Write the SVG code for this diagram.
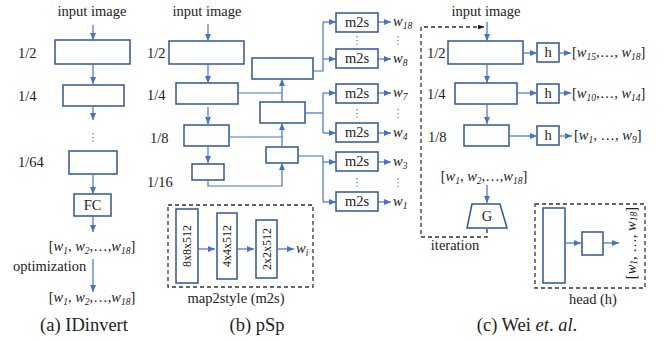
<svg xmlns="http://www.w3.org/2000/svg" width="667" height="341" viewBox="0 0 667 341">
<defs>
<marker id="ah" markerUnits="userSpaceOnUse" markerWidth="7" markerHeight="6" refX="7" refY="3" orient="auto"><path d="M0,0 L7,3 L0,6 z" fill="#4472C4"/></marker>
<marker id="ahk" markerUnits="userSpaceOnUse" markerWidth="6" markerHeight="5" refX="6" refY="2.5" orient="auto"><path d="M0,0 L6,2.5 L0,5 z" fill="#222"/></marker>
<style>
.t{font-family:"Liberation Serif","Times New Roman",serif;font-size:14.5px;fill:#222}
.c{text-anchor:middle}
.cap{font-size:18.5px}
.i{font-style:italic}
.s{font-size:9.5px;font-style:italic}
.r{font-size:12px}
.box{fill:#fff;stroke:#2F5597;stroke-width:1.5}
.ln{fill:none;stroke:#4472C4;stroke-width:1.2}
.ar{fill:none;stroke:#4472C4;stroke-width:1.2;marker-end:url(#ah)}
.dash{fill:none;stroke:#333;stroke-width:1.3;stroke-dasharray:4 3}
.dot{font-family:"DejaVu Sans",sans-serif;font-size:11px;fill:#777;text-anchor:middle}
</style>
</defs>

<!-- (a) IDinvert -->
<g id="a-labels">
<text class="t c" x="92" y="16">input image</text>
<text class="t" x="18" y="58">1/2</text>
<text class="t" x="18" y="101">1/4</text>
<text class="t" x="18" y="167">1/64</text>
<text class="dot" x="93" y="141">⋮</text>
</g>
<g id="a-enc1"><rect class="box" x="55" y="40" width="75" height="24"/></g>
<g id="a-enc2"><rect class="box" x="63" y="85" width="61" height="21"/></g>
<g id="a-enc3"><rect class="box" x="69" y="151" width="48" height="23"/></g>
<g id="a-fc"><rect class="box" x="74" y="194" width="37" height="22"/><text class="t c" x="92.5" y="210">FC</text></g>
<g id="a-w1"><text class="t c" x="92" y="251">[<tspan class="i">w</tspan><tspan class="s" dy="3">1</tspan><tspan dy="-3">, </tspan><tspan class="i">w</tspan><tspan class="s" dy="3">2</tspan><tspan dy="-3">,…,</tspan><tspan class="i">w</tspan><tspan class="s" dy="3">18</tspan><tspan dy="-3">]</tspan></text></g>
<g id="a-opt"><text class="t" x="13" y="271">optimization</text></g>
<g id="a-w2"><text class="t c" x="92" y="302">[<tspan class="i">w</tspan><tspan class="s" dy="3">1</tspan><tspan dy="-3">, </tspan><tspan class="i">w</tspan><tspan class="s" dy="3">2</tspan><tspan dy="-3">,…,</tspan><tspan class="i">w</tspan><tspan class="s" dy="3">18</tspan><tspan dy="-3">]</tspan></text></g>
<g id="a-cap"><text class="t c cap" x="84" y="331">(a) IDinvert</text></g>

<!-- (b) pSp -->
<g id="b-labels">
<text class="t c" x="207" y="16">input image</text>
<text class="t" x="147" y="58">1/2</text>
<text class="t" x="147" y="100">1/4</text>
<text class="t" x="150" y="143">1/8</text>
<text class="t" x="147" y="187">1/16</text>
</g>
<g id="b-enc1"><rect class="box" x="169" y="41" width="75" height="23"/></g>
<g id="b-enc2"><rect class="box" x="176" y="83" width="62" height="21"/></g>
<g id="b-enc3"><rect class="box" x="184" y="125" width="45" height="21"/></g>
<g id="b-enc4"><rect class="box" x="192" y="164" width="32" height="16"/></g>
<g id="b-dec1"><rect class="box" x="252" y="58" width="61" height="21"/></g>
<g id="b-dec2"><rect class="box" x="260" y="102" width="45" height="21"/></g>
<g id="b-dec3"><rect class="box" x="266" y="147" width="32" height="16"/></g>
<g id="b-m2s1"><rect class="box" x="336" y="13" width="42" height="19"/><text class="t c" x="357" y="27">m2s</text></g>
<g id="b-m2s2"><rect class="box" x="336" y="49" width="42" height="19"/><text class="t c" x="357" y="63">m2s</text></g>
<g id="b-m2s3"><rect class="box" x="336" y="84" width="42" height="19"/><text class="t c" x="357" y="98">m2s</text></g>
<g id="b-m2s4"><rect class="box" x="336" y="123" width="42" height="19"/><text class="t c" x="357" y="137">m2s</text></g>
<g id="b-m2s5"><rect class="box" x="336" y="152" width="42" height="19"/><text class="t c" x="357" y="166">m2s</text></g>
<g id="b-m2s6"><rect class="box" x="336" y="192" width="42" height="19"/><text class="t c" x="357" y="206">m2s</text></g>
<g id="b-dots">
<text class="dot" x="357" y="44">⋮</text>
<text class="dot" x="357" y="117">⋮</text>
<text class="dot" x="357" y="186">⋮</text>
<text class="dot" x="398" y="44">⋮</text>
<text class="dot" x="398" y="117">⋮</text>
<text class="dot" x="398" y="186">⋮</text>
</g>
<g id="b-wlabels">
<text class="t" x="393" y="26"><tspan class="i">w</tspan><tspan class="s" dy="3">18</tspan></text>
<text class="t" x="393" y="63"><tspan class="i">w</tspan><tspan class="s" dy="3">8</tspan></text>
<text class="t" x="393" y="97"><tspan class="i">w</tspan><tspan class="s" dy="3">7</tspan></text>
<text class="t" x="393" y="137"><tspan class="i">w</tspan><tspan class="s" dy="3">4</tspan></text>
<text class="t" x="393" y="166"><tspan class="i">w</tspan><tspan class="s" dy="3">3</tspan></text>
<text class="t" x="393" y="206"><tspan class="i">w</tspan><tspan class="s" dy="3">1</tspan></text>
</g>
<g id="b-map2style">
<rect class="dash" x="168" y="205" width="145" height="82"/>
<rect class="box" x="176" y="209" width="22" height="74"/>
<rect class="box" x="217" y="213" width="20" height="66"/>
<rect class="box" x="256" y="220" width="21" height="58"/>
<text class="t c r" transform="translate(187,246) rotate(-90)" dominant-baseline="central">8x8x512</text>
<text class="t c r" transform="translate(227,246) rotate(-90)" dominant-baseline="central">4x4x512</text>
<text class="t c r" transform="translate(266.5,249) rotate(-90)" dominant-baseline="central">2x2x512</text>
<text class="t" x="296" y="253"><tspan class="i">w</tspan><tspan class="s" dy="3">i</tspan></text>
<text class="t c" x="236" y="303">map2style (m2s)</text>
</g>
<g id="b-cap"><text class="t c cap" x="257" y="331">(b) pSp</text></g>

<!-- (c) Wei et al. -->
<g id="c-labels">
<text class="t c" x="486" y="16">input image</text>
<text class="t" x="427" y="58">1/2</text>
<text class="t" x="427" y="99">1/4</text>
<text class="t" x="428" y="142">1/8</text>
</g>
<g id="c-enc1"><rect class="box" x="448" y="41" width="75" height="23"/></g>
<g id="c-enc2"><rect class="box" x="455" y="83" width="62" height="21"/></g>
<g id="c-enc3"><rect class="box" x="464" y="125" width="45" height="21"/></g>
<g id="c-h1"><rect class="box" x="537" y="43" width="22" height="19"/><text class="t c" x="548" y="57">h</text></g>
<g id="c-h2"><rect class="box" x="537" y="84" width="22" height="19"/><text class="t c" x="548" y="98">h</text></g>
<g id="c-h3"><rect class="box" x="537" y="126" width="22" height="19"/><text class="t c" x="548" y="140">h</text></g>
<g id="c-out1"><text class="t" x="572" y="57">[<tspan class="i">w</tspan><tspan class="s" dy="3">15</tspan><tspan dy="-3">,…, </tspan><tspan class="i">w</tspan><tspan class="s" dy="3">18</tspan><tspan dy="-3">]</tspan></text></g>
<g id="c-out2"><text class="t" x="572" y="98">[<tspan class="i">w</tspan><tspan class="s" dy="3">10</tspan><tspan dy="-3">,…, </tspan><tspan class="i">w</tspan><tspan class="s" dy="3">14</tspan><tspan dy="-3">]</tspan></text></g>
<g id="c-out3"><text class="t" x="574" y="140">[<tspan class="i">w</tspan><tspan class="s" dy="3">1</tspan><tspan dy="-3">, …, </tspan><tspan class="i">w</tspan><tspan class="s" dy="3">9</tspan><tspan dy="-3">]</tspan></text></g>
<g id="c-w"><text class="t c" x="484" y="181">[<tspan class="i">w</tspan><tspan class="s" dy="3">1</tspan><tspan dy="-3">, </tspan><tspan class="i">w</tspan><tspan class="s" dy="3">2</tspan><tspan dy="-3">,…,</tspan><tspan class="i">w</tspan><tspan class="s" dy="3">18</tspan><tspan dy="-3">]</tspan></text></g>
<g id="c-G"><polygon class="box" points="472,204 500,204 507,228 467,228"/><text class="t c" x="487" y="221">G</text></g>
<g id="c-iter"><text class="t c" x="455" y="250">iteration</text></g>
<g id="c-head">
<rect class="dash" x="535" y="204" width="110" height="84"/>
<rect class="box" x="543" y="208" width="22" height="75"/>
<rect class="box" x="582" y="232" width="21" height="23"/>
<text class="t c" transform="translate(631,243) rotate(-90)" dominant-baseline="central">[<tspan class="i">w</tspan><tspan class="s" dy="3">1</tspan><tspan dy="-3">, …, </tspan><tspan class="i">w</tspan><tspan class="s" dy="3">18</tspan><tspan dy="-3">]</tspan></text>
<text class="t c" x="593" y="304">head (h)</text>
</g>
<g id="c-cap"><text class="t c cap" x="527" y="331">(c) Wei <tspan class="i">et</tspan>. <tspan class="i">al</tspan>.</text></g>

<g id="connectors">
<!-- (a) -->
<line class="ar" x1="93" y1="25" x2="93" y2="40"/>
<line class="ar" x1="93" y1="64" x2="93" y2="84"/>
<line class="ar" x1="93" y1="106" x2="93" y2="120"/>
<line class="ar" x1="93" y1="174" x2="93" y2="194"/>
<line class="ar" x1="93" y1="216" x2="93" y2="232"/>
<line class="ar" x1="93" y1="259" x2="93" y2="292"/>
<!-- (b) encoder -->
<line class="ar" x1="208" y1="24" x2="208" y2="41"/>
<line class="ar" x1="208" y1="64" x2="208" y2="83"/>
<line class="ar" x1="208" y1="107" x2="208" y2="124"/>
<line class="ar" x1="208" y1="146" x2="208" y2="163"/>
<!-- (b) lateral / decoder -->
<polyline class="ln" points="238,93 282,93"/>
<polyline class="ln" points="229,137 282,137"/>
<line class="ar" x1="282" y1="102" x2="282" y2="79"/>
<line class="ar" x1="282" y1="147" x2="282" y2="123"/>
<polyline class="ar" points="208,180 208,186 282,186 282,163"/>
<!-- (b) to m2s -->
<polyline class="ln" points="313,71 323,71 323,22"/>
<polyline class="ar" points="323,22 336,22"/>
<polyline class="ar" points="323,59 336,59"/>
<polyline class="ln" points="305,113 323,113"/>
<polyline class="ar" points="323,93 336,93"/>
<line class="ln" x1="323" y1="93" x2="323" y2="133"/>
<polyline class="ar" points="323,133 336,133"/>
<polyline class="ln" points="298,156 323,156 323,202"/>
<polyline class="ar" points="323,162 336,162"/>
<polyline class="ar" points="323,202 336,202"/>
<!-- (b) m2s outputs -->
<line class="ar" x1="378" y1="22" x2="391" y2="22"/>
<line class="ar" x1="378" y1="59" x2="391" y2="59"/>
<line class="ar" x1="378" y1="93" x2="391" y2="93"/>
<line class="ar" x1="378" y1="133" x2="391" y2="133"/>
<line class="ar" x1="378" y1="162" x2="391" y2="162"/>
<line class="ar" x1="378" y1="202" x2="391" y2="202"/>
<!-- (b) map2style -->
<line class="ar" x1="198" y1="249" x2="215" y2="249"/>
<line class="ar" x1="237" y1="249" x2="254" y2="249"/>
<line class="ar" x1="277" y1="249" x2="294" y2="249"/>
<!-- (c) -->
<line class="ar" x1="487" y1="22" x2="487" y2="41"/>
<line class="ar" x1="487" y1="64" x2="487" y2="83"/>
<line class="ar" x1="487" y1="104" x2="487" y2="124"/>
<line class="ar" x1="523" y1="53" x2="537" y2="53"/>
<line class="ar" x1="517" y1="93" x2="537" y2="93"/>
<line class="ar" x1="509" y1="136" x2="537" y2="136"/>
<line class="ar" x1="559" y1="53" x2="571" y2="53"/>
<line class="ar" x1="559" y1="93" x2="571" y2="93"/>
<line class="ar" x1="559" y1="136" x2="572" y2="136"/>
<line class="ar" x1="487" y1="185" x2="487" y2="203"/>
<path class="dash" d="M487,229 V237 H421 V27 H484" marker-end="url(#ahk)"/>
<line class="ar" x1="565" y1="243" x2="581" y2="243"/>
<line class="ar" x1="603" y1="243" x2="619" y2="243"/>
</g>
</svg>
